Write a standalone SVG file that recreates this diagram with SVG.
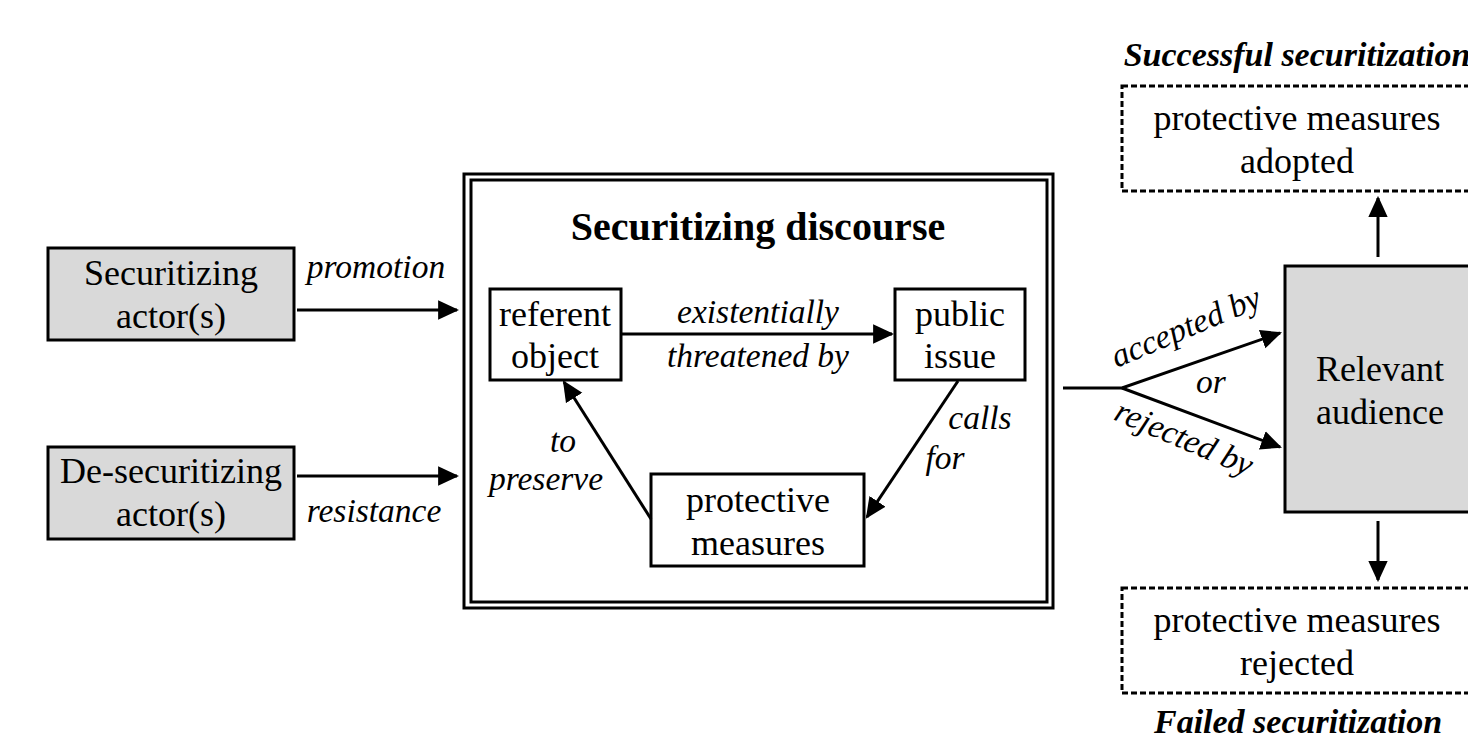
<svg xmlns="http://www.w3.org/2000/svg" width="1468" height="741" viewBox="0 0 1468 741">
  <style>
    .box { fill: #ffffff; stroke: #000; stroke-width: 3; }
    .grey { fill: #d9d9d9; stroke: #000; stroke-width: 3; }
    .dash { fill: #ffffff; stroke: #000; stroke-width: 3; stroke-dasharray: 6 3; }
    .t { font-family: "Liberation Serif", "Times New Roman", serif; font-size: 36px; fill: #000; text-anchor: middle; }
    .lbl { font-family: "Liberation Serif", "Times New Roman", serif; font-size: 33.5px; font-style: italic; fill: #000; text-anchor: middle; }
    .head { font-family: "Liberation Serif", "Times New Roman", serif; font-size: 34px; font-style: italic; font-weight: bold; fill: #000; text-anchor: middle; }
    .title { font-family: "Liberation Serif", "Times New Roman", serif; font-size: 40px; font-weight: bold; fill: #000; text-anchor: middle; }
    .ln { fill: none; stroke: #000; stroke-width: 3; }
  </style>
  <defs>
    <marker id="arrow" viewBox="0 0 10 10" refX="9" refY="5" markerWidth="7" markerHeight="7" markerUnits="strokeWidth" orient="auto">
      <path d="M0,0.4 L10,5 L0,9.6 z" fill="#000"/>
    </marker>
  </defs>
  <rect width="1468" height="741" fill="#ffffff"/>

  <!-- outcome headings -->
  <text class="head" x="1297" y="66">Successful securitization</text>
  <text class="head" x="1298" y="733">Failed securitization</text>

  <g id="securitizing-actor">
    <rect class="grey" x="48" y="248" width="246" height="92"/>
    <text class="t" x="171" y="285">Securitizing</text>
    <text class="t" x="171" y="328">actor(s)</text>
  </g>

  <g id="desecuritizing-actor">
    <rect class="grey" x="48" y="447" width="246" height="92"/>
    <text class="t" x="171" y="483">De-securitizing</text>
    <text class="t" x="171" y="526">actor(s)</text>
  </g>

  <g id="securitizing-discourse">
    <rect x="464" y="174" width="589" height="434" fill="#ffffff" stroke="#000" stroke-width="3"/>
    <rect x="471" y="180" width="576" height="422" fill="none" stroke="#000" stroke-width="3"/>
    <text class="title" x="758" y="240">Securitizing discourse</text>
  </g>

  <g id="referent-object">
    <rect class="box" x="490" y="289" width="131" height="91"/>
    <text class="t" x="555" y="326">referent</text>
    <text class="t" x="555" y="368">object</text>
  </g>

  <g id="public-issue">
    <rect class="box" x="895" y="289" width="130" height="91"/>
    <text class="t" x="960" y="326">public</text>
    <text class="t" x="960" y="368">issue</text>
  </g>

  <g id="protective-measures">
    <rect class="box" x="651" y="474" width="213" height="92"/>
    <text class="t" x="758" y="512">protective</text>
    <text class="t" x="758" y="555">measures</text>
  </g>

  <g id="relevant-audience">
    <rect class="grey" x="1285" y="266" width="192" height="246"/>
    <text class="t" x="1380" y="381">Relevant</text>
    <text class="t" x="1380" y="424">audience</text>
  </g>

  <g id="measures-adopted">
    <rect class="dash" x="1122" y="86" width="360" height="105"/>
    <text class="t" x="1297" y="130">protective measures</text>
    <text class="t" x="1297" y="173">adopted</text>
  </g>

  <g id="measures-rejected">
    <rect class="dash" x="1122" y="588" width="360" height="105"/>
    <text class="t" x="1297" y="632">protective measures</text>
    <text class="t" x="1297" y="675">rejected</text>
  </g>

  <g id="connectors">
    <line class="ln" x1="297" y1="310" x2="457" y2="310" marker-end="url(#arrow)"/>
    <line class="ln" x1="297" y1="476" x2="457" y2="476" marker-end="url(#arrow)"/>
    <line class="ln" x1="621" y1="334" x2="892" y2="334" marker-end="url(#arrow)"/>
    <line class="ln" x1="958" y1="381" x2="867" y2="517" marker-end="url(#arrow)"/>
    <line class="ln" x1="651" y1="519" x2="564" y2="382" marker-end="url(#arrow)"/>
    <polyline class="ln" points="1063,388 1122,388 1280,333" marker-end="url(#arrow)"/>
    <line class="ln" x1="1122" y1="388" x2="1280" y2="447" marker-end="url(#arrow)"/>
    <line class="ln" x1="1378" y1="257" x2="1378" y2="198" marker-end="url(#arrow)"/>
    <line class="ln" x1="1378" y1="521" x2="1378" y2="580" marker-end="url(#arrow)"/>

    <text class="lbl" x="376" y="278">promotion</text>
    <text class="lbl" x="374" y="522">resistance</text>
    <text class="lbl" x="758" y="323">existentially</text>
    <text class="lbl" x="758" y="367">threatened by</text>
    <text class="lbl" x="980" y="429">calls</text>
    <text class="lbl" x="945" y="469">for</text>
    <text class="lbl" x="563" y="452">to</text>
    <text class="lbl" x="546" y="490">preserve</text>
    <text class="lbl" x="1211" y="393">or</text>
    <text class="lbl" transform="translate(1190,337) rotate(-23)">accepted by</text>
    <text class="lbl" transform="translate(1180,448) rotate(23)">rejected by</text>
  </g>
</svg>
